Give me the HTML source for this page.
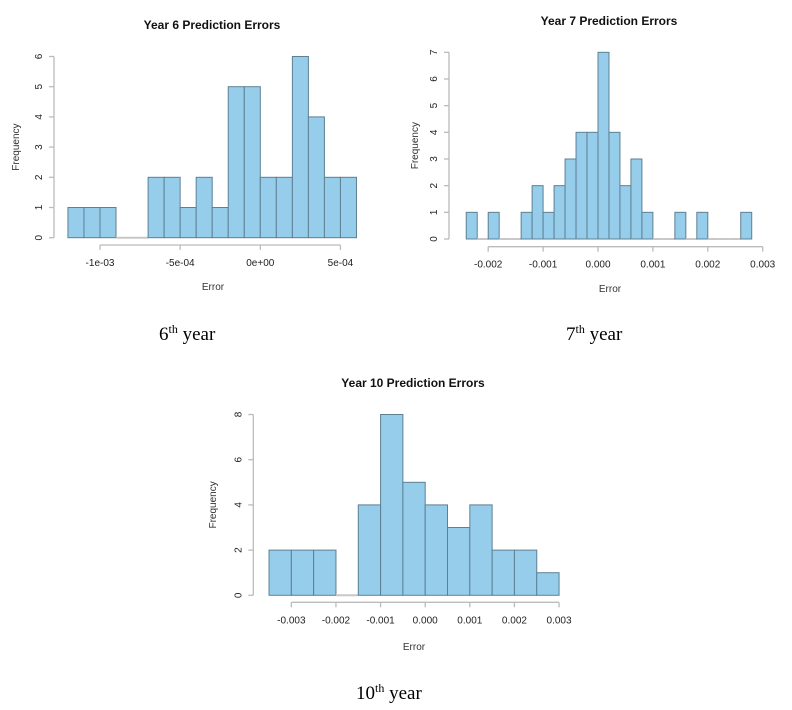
<!DOCTYPE html>
<html><head><meta charset="utf-8"><style>
body{margin:0;background:#fff;width:792px;height:710px;overflow:hidden}
svg{display:block}
.cap{font-family:"Liberation Serif",serif;font-size:19px;fill:#000}
</style></head><body>
<svg id="root" width="792" height="710" xmlns="http://www.w3.org/2000/svg">
<text class="cap" x="159" y="340">6<tspan font-size="12" dy="-7">th</tspan><tspan dy="7"> year</tspan></text>
<text class="cap" x="566" y="340">7<tspan font-size="12" dy="-7">th</tspan><tspan dy="7"> year</tspan></text>
<text class="cap" x="356" y="699">10<tspan font-size="12" dy="-7">th</tspan><tspan dy="7"> year</tspan></text>
</svg>
<script>
// Year 6
const y6BinStart = -0.0012, y6BinWidth = 0.0001;
const y6Counts = [1,1,1,0,0,2,2,1,2,1,5,5,2,2,6,4,2,2];
const y6XTicks = [-0.001,-0.0005,0,0.0005];
const y6XTickLabels = ["-1e-03","-5e-04","0e+00","5e-04"];
const y6YTicks = [0,1,2,3,4,5,6];
// Year 7
const y7BinStart = -0.0024, y7BinWidth = 0.0002;
const y7Counts = [1,0,1,0,0,1,2,1,2,3,4,4,7,4,2,3,1,0,0,1,0,1,0,0,0,1];
const y7XTicks = [-0.002,-0.001,0,0.001,0.002,0.003];
const y7XTickLabels = ["-0.002","-0.001","0.000","0.001","0.002","0.003"];
const y7YTicks = [0,1,2,3,4,5,6,7];
// Year 10
const y10BinStart = -0.0035, y10BinWidth = 0.0005;
const y10Counts = [2,2,2,0,4,8,5,4,3,4,2,2,1];
const y10XTicks = [-0.003,-0.002,-0.001,0,0.001,0.002,0.003];
const y10XTickLabels = ["-0.003","-0.002","-0.001","0.000","0.001","0.002","0.003"];
const y10YTicks = [0,2,4,6,8];

const NS="http://www.w3.org/2000/svg";
const root=document.getElementById('root');
function mk(tag,attrs,parent){const e=document.createElementNS(NS,tag);for(const k in attrs)e.setAttribute(k,attrs[k]);parent.appendChild(e);return e;}

function hist(o){
  const g=mk('g',{},root);
  
  
  const xs=v=>o.x0px+(v-o.x0v)*o.pxPerUnit;
  const ys=c=>o.y0px-c*o.pxPerCount;
  const f='font-family:"Liberation Sans",sans-serif';
  const t=mk('text',{x:o.titleX,y:o.titleY,'text-anchor':'middle',style:f+';font-size:12px;font-weight:bold',fill:'#111'},g);
  t.textContent=o.title;
  
  
  o.counts.forEach((c,i)=>{
    const a=xs(o.binStart+i*o.binWidth), b=xs(o.binStart+(i+1)*o.binWidth);
    let r;
    if(c===0){
      r=mk('line',{x1:a,x2:b,y1:ys(0),y2:ys(0),stroke:'#c8c8c8','stroke-width':2},g);
    } else {
      r=mk('rect',{x:a,y:ys(c),width:b-a,height:ys(0)-ys(c),fill:'#95cdeb',stroke:'#5e8093','stroke-width':1},g);
    }
    
    
  });
  const yt=o.yTicks;
  const ya=mk('line',{x1:o.yAxisX,x2:o.yAxisX,y1:ys(yt[0]),y2:ys(yt[yt.length-1]),stroke:'#bbb','stroke-width':1.3},g);
  
  
  yt.forEach(v=>{
    mk('line',{x1:o.yAxisX-5,x2:o.yAxisX,y1:ys(v),y2:ys(v),stroke:'#bbb','stroke-width':1.3},g);
    const lx=o.yAxisX-12;
    const l=mk('text',{x:lx,y:ys(v),transform:`rotate(-90 ${lx} ${ys(v)})`,'text-anchor':'middle',style:f+';font-size:10px',fill:'#222'},g);
    l.textContent=v;
    
    
  });
  const xt=o.xTicks;
  const xa=mk('line',{x1:xs(xt[0]),x2:xs(xt[xt.length-1]),y1:o.xAxisY,y2:o.xAxisY,stroke:'#bbb','stroke-width':1.3},g);
  
  
  xt.forEach((v,i)=>{
    mk('line',{x1:xs(v),x2:xs(v),y1:o.xAxisY,y2:o.xAxisY+5,stroke:'#bbb','stroke-width':1.3},g);
    const l=mk('text',{x:xs(v),y:o.xAxisY+21,'text-anchor':'middle',style:f+';font-size:10px',fill:'#222'},g);
    l.textContent=o.xLabels[i];
    
    
  });
  const xl=mk('text',{x:o.titleX+1,y:o.xTitleY,'text-anchor':'middle',style:f+';font-size:10px',fill:'#333'},g);
  xl.textContent='Error';
  
  
  const yx=o.yTitleX, yy=(ys(yt[0])+ys(yt[yt.length-1]))/2;
  const yl=mk('text',{x:yx,y:yy,transform:`rotate(-90 ${yx} ${yy})`,'text-anchor':'middle',style:f+';font-size:10px',fill:'#333'},g);
  yl.textContent='Frequency';
  
  
}

hist({name:'year-6-histogram',title:'Year 6 Prediction Errors',titleX:212,titleY:29,
  x0v:0,x0px:260.3,pxPerUnit:160300,y0px:237.7,pxPerCount:30.2,
  binStart:y6BinStart,binWidth:y6BinWidth,counts:y6Counts,xTicks:y6XTicks,xLabels:y6XTickLabels,yTicks:y6YTicks,
  yAxisX:54,xAxisY:245,xTitleY:290,yTitleX:19});
hist({name:'year-7-histogram',title:'Year 7 Prediction Errors',titleX:609,titleY:25,
  x0v:0,x0px:598,pxPerUnit:54900,y0px:239,pxPerCount:26.67,
  binStart:y7BinStart,binWidth:y7BinWidth,counts:y7Counts,xTicks:y7XTicks,xLabels:y7XTickLabels,yTicks:y7YTicks,
  yAxisX:449,xAxisY:246.7,xTitleY:292,yTitleX:418});
hist({name:'year-10-histogram',title:'Year 10 Prediction Errors',titleX:413,titleY:387,
  x0v:0,x0px:425.2,pxPerUnit:44620,y0px:595.3,pxPerCount:22.6,
  binStart:y10BinStart,binWidth:y10BinWidth,counts:y10Counts,xTicks:y10XTicks,xLabels:y10XTickLabels,yTicks:y10YTicks,
  yAxisX:253.3,xAxisY:602.3,xTitleY:650,yTitleX:216});
</script>
</body></html>
